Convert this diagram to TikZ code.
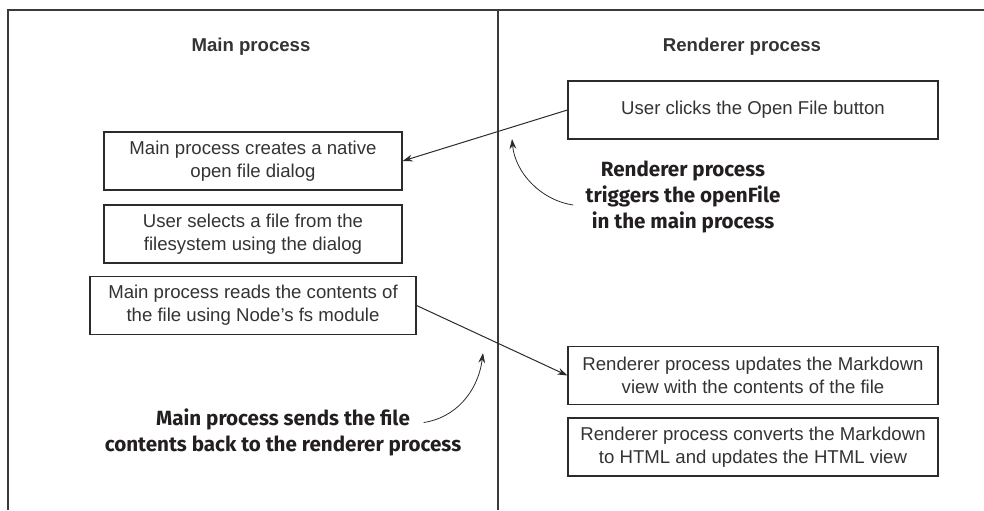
\documentclass[tikz,border=0pt]{standalone}
\usepackage{fontspec}
\setmainfont{Liberation Sans}
\newfontfamily\notefamily{Fira Sans}
\usepackage{xcolor}
\usepackage{tikz}
\usetikzlibrary{arrows.meta,positioning,calc}
\definecolor{cInk}{HTML}{2B2B2B}
\definecolor{cText}{HTML}{333333}
\definecolor{cNote}{HTML}{231F20}
\definecolor{cFrame}{HTML}{3A3A3A}
\newcommand{\boxfont}{\fontsize{9.3}{11.5}\selectfont}
\newcommand{\headfont}{\fontsize{9.3}{11.5}\selectfont\bfseries}
\newcommand{\notefont}{\fontsize{10.3}{13.2}\selectfont\notefamily\bfseries}
\tikzset{
  stepbox/.style={draw=cInk,line width=0.6pt,align=center,font=\boxfont,text=cText,inner sep=2pt,minimum width=#1,minimum height=29pt},
  stepbox/.default=185pt,
  head/.style={font=\headfont,text=cText,inner sep=0pt},
  note/.style={font=\notefont,align=center,text=cNote,inner sep=0pt},
  arr/.style={-{Stealth[length=5pt,width=3.4pt]},line width=0.5pt,color=cInk},
  curv/.style={-{Stealth[length=5pt,width=3.4pt]},line width=0.4pt,color=cInk},
  frame/.style={line width=0.8pt,color=cFrame},
}

\begin{document}
\begin{tikzpicture}[x=0.5pt,y=-0.5pt]
    \useasboundingbox (0,0) rectangle (984,510);
    % frame and lanes
    \draw[frame] (8,510) -- (8,10) -- (984,10);
    \draw[frame] (498,10) -- (498,510);
    \node[head] (mainhd) at (251,47) {Main process};
    \node[head] (rendhd) at (742,47) {Renderer process};
    % steps
    \node[stepbox] (click)   at (753,110)   {User clicks the Open File button};
    \node[stepbox=149pt] (dialog) at (253,161) {Main process creates a native\\open file dialog};
    \node[stepbox=149pt] (select) at (253,234) {User selects a file from the\\filesystem using the dialog};
    \node[stepbox=163pt] (reads)  at (253,305.5) {Main process reads the contents of\\the file using Node's fs module};
    \node[stepbox] (updates) at (753,375.5) {Renderer process updates the Markdown\\view with the contents of the file};
    \node[stepbox] (converts) at (753,447)  {Renderer process converts the Markdown\\to HTML and updates the HTML view};
    \draw[arr] (click.west) -- (dialog.east);
    \draw[arr] (reads.east) -- (updates.west);
    % notes
    \node[note] (trignote) at (683,197) {Renderer process\\triggers the openFile\\in the main process};
    \node[note] (sendnote) at (283,432.5) {Main process sends the file\\contents back to the renderer process};
    \coordinate (trigtip) at (512,139);
    \coordinate (sendtip) at (483,353);
    \draw[curv] ([xshift=-6pt,yshift=-4pt]trignote.west) .. controls (540,200) and (515,172) .. (trigtip);
    \draw[curv] ([xshift=-19pt,yshift=5pt]sendnote.east) .. controls (455,418) and (478,392) .. (sendtip);
\end{tikzpicture}
\end{document}
